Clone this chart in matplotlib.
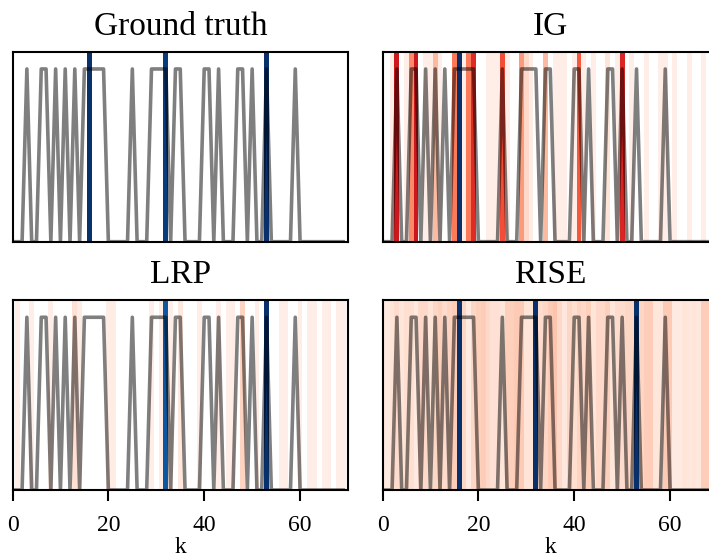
import numpy as np
import matplotlib
matplotlib.use('Agg')
import matplotlib.pyplot as plt

plt.rcParams['font.family'] = ['Liberation Serif', 'DejaVu Serif']

# binary input signal, one value per position k
k = np.arange(70)
signal = [0, 0, 0, 1, 0, 0, 1, 1, 0, 1,
          0, 1, 0, 1, 0, 1, 1, 1, 1, 1,
          0, 0, 0, 0, 0, 1, 0, 0, 0, 1,
          1, 1, 1, 0, 1, 1, 0, 0, 0, 0,
          1, 1, 0, 1, 0, 0, 0, 1, 1, 0,
          1, 0, 0, 1, 0, 0, 0, 0, 0, 1,
          0, 0, 0, 0, 0, 0, 0, 0, 0, 0]

# attribution per position (0 = nothing drawn)
ig = [0, 0, .04, .75, 0, .04, .4, .75, 0, .04,
      .04, .25, .04, 0, 0, .45, .3, .04, .45, .68,
      0, 0, .04, .04, .04, .58, .04, 0, 0, .35,
      .15, .05, 0, 0, .25, 0, .04, .04, .04, 0,
      .04, .55, .04, 0, .04, 0, 0, .1, 0, .04,
      .7, 0, .04, 0, 0, .04, 0, 0, .04, .04,
      0, .04, 0, 0, .04, 0, 0, .04, 0, 0]

lrp = [0, .04, 0, 0, .04, 0, 0, 0, .04, 0,
       0, 0, 0, .12, .05, 0, 0, 0, 0, 0,
       .05, .05, 0, 0, 0, 0, 0, 0, 0, .04,
       0, .04, 0, .04, 0, .08, 0, 0, 0, .04,
       0, 0, 0, .04, 0, .04, .04, 0, .17, 0,
       0, .04, 0, 0, 0, 0, .04, .04, 0, 0,
       .04, 0, .04, .04, 0, .04, .04, 0, .04, .04]

rise = [.07, .07, .1, .14, .09, .13, .13, .07, .15, .15,
        .1, .16, .18, .14, .17, .19, .16, .16, .06, .16,
        .18, .19, .15, .12, .12, .09, .18, .18, .2, .2,
        .1, .1, .14, .14, .16, .2, .22, .15, .08, .16,
        .13, .17, .15, .18, .1, .15, .15, .18, .09, .14,
        .14, .16, .16, .16, .16, .19, .19, .09, .09, .2,
        .2, .07, .07, .1, .08, .1, .08, .19, .19, .15]

# ground-truth positions shown in each panel and their blue level
panels = [
    ('Ground truth', None, [16, 32, 53], [1.0, 0.95, 1.0]),
    ('IG', ig, [16], [1.0]),
    ('LRP', lrp, [32, 53], [0.85, 1.0]),
    ('RISE', rise, [16, 32, 53], [1.0, 1.0, 1.0]),
]

W, H = 709, 557
fig = plt.figure(figsize=(W / 100, H / 100), dpi=100)

# axes boxes in pixels: left, top
boxes = [(12.5, 51.7), (382.5, 51.7), (12.5, 300), (382.5, 300)]
aw, ah = 335.5, 190

for i, (title, attr, pos, lev) in enumerate(panels):
    x0, y0 = boxes[i]
    ax = fig.add_axes([x0 / W, 1 - (y0 + ah) / H, aw / W, ah / H])
    if attr is not None:
        cols = [plt.cm.Reds(v) if v > 0 else 'white' for v in attr]
        ax.bar(k, 1.1, width=1.0, color=cols, zorder=0)
    ax.bar(pos, 1.1, width=1.0, color=[plt.cm.Blues(v) for v in lev], zorder=1)
    ax.plot(k, signal, color='black', alpha=0.5, lw=2.6, zorder=2)
    ax.set_xlim(0, 70)
    ax.set_ylim(0, 1.1)
    ax.set_yticks([])
    for s in ax.spines.values():
        s.set_linewidth(1.5)
        s.set_zorder(5)
    ax.set_title(title, fontsize=24, pad=12)
    if i >= 2:
        ax.set_xticks([0, 20, 40, 60])
        ax.tick_params(axis='x', labelsize=17, length=8, width=1.5, pad=10)
        ax.set_xlabel('k', fontsize=17, labelpad=1)
    else:
        ax.set_xticks([])

fig.savefig('out.png', dpi=100)
